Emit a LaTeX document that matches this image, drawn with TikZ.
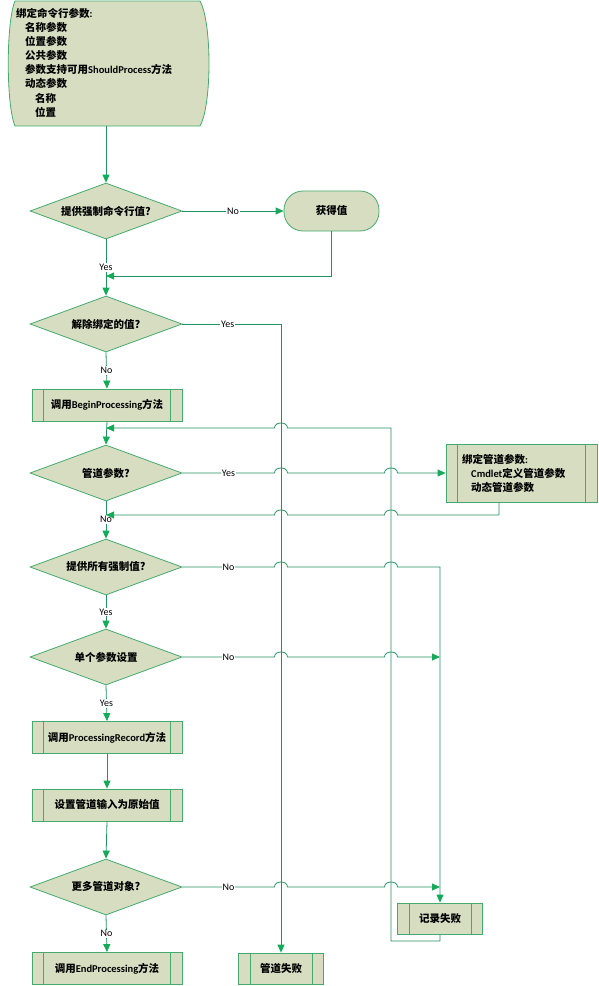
\documentclass[tikz,border=0pt]{standalone}
\usepackage{fontspec}
\setmainfont{Carlito}
\newfontfamily\cjkfont{Noto Sans CJK SC}
\newcommand\zh[1]{{\cjkfont #1}}
\usetikzlibrary{arrows.meta,shapes.geometric}
\definecolor{lnc}{RGB}{35,145,95}
\definecolor{arrc}{RGB}{20,170,90}
\definecolor{shb}{RGB}{70,170,110}
\definecolor{shf}{RGB}{215,221,193}
\newcommand\jmpcur[2]{.. controls (#1-6.5,#2-6.7) and (#1+6.5,#2-6.7) .. (#1+6.5,#2)}
\newcommand\jmpright[2]{-- (#1-6.5,#2) .. controls (#1-6.5,#2-6.7) and (#1+6.5,#2-6.7) .. (#1+6.5,#2)}
\newcommand\jmpleft[2]{-- (#1+6.5,#2) .. controls (#1+6.5,#2-6.7) and (#1-6.5,#2-6.7) .. (#1-6.5,#2)}
\tikzset{
  conn/.style={draw=lnc, line width=0.8pt, -{Triangle[length=8pt,width=7pt,color=arrc]}},
  dec/.style={diamond, shape aspect=2.7, draw=shb, fill=shf, line width=0.8pt,
    minimum width=152pt, minimum height=56pt, inner sep=0pt, font=\fontsize{10.5}{12}\selectfont\bfseries},
  procbox/.style={rectangle, draw=shb, fill=shf, line width=0.8pt, inner sep=0pt,
    font=\fontsize{10.5}{12}\selectfont\bfseries,
    path picture={\draw[shb, line width=0.8pt]
      ([xshift=11.5pt]path picture bounding box.north west) -- ([xshift=11.5pt]path picture bounding box.south west)
      ([xshift=-11.5pt]path picture bounding box.north east) -- ([xshift=-11.5pt]path picture bounding box.south east);}},
  bigproc/.style={procbox, minimum width=150pt, minimum height=32pt},
  smallproc/.style={procbox, minimum width=85pt, minimum height=31pt},
  term/.style={rectangle, rounded corners=19pt, draw=shb, fill=shf, line width=0.8pt,
    minimum width=95pt, minimum height=40pt, inner sep=0pt, font=\fontsize{10.5}{12}\selectfont\bfseries},
  txt/.style={anchor=west, inner sep=0pt, font=\fontsize{10.5}{12}\selectfont\bfseries},
  lbl/.style={fill=white, inner sep=1pt, font=\fontsize{10}{12}\selectfont}
}
\begin{document}
\begin{tikzpicture}[x=1pt,y=-1pt]
\useasboundingbox (0,0) rectangle (599,986);
% top shape
\draw[draw=shb, fill=shf, line width=0.8pt] (15,1) -- (200,1) .. controls (212,22) and (212,105) .. (200,126)
  -- (15,126) .. controls (6,105) and (6,22) .. cycle;
\coordinate (topb) at (106,126);
\node[txt] (t1) at (16,13) {\zh{绑定命令行参数}:};
\node[txt] (t2) at (25,27) {\zh{名称参数}};
\node[txt] (t3) at (25,41) {\zh{位置参数}};
\node[txt] (t4) at (25,55) {\zh{公共参数}};
\node[txt] (t5) at (25,69) {\zh{参数支持可用}ShouldProcess\zh{方法}};
\node[txt] (t6) at (25,83) {\zh{动态参数}};
\node[txt] (t7) at (35,98) {\zh{名称}};
\node[txt] (t8) at (35,112) {\zh{位置}};
% decisions
\node[dec] (d1) at (106,211) {\zh{提供强制命令行值?}};
\node[dec] (d2) at (106,324) {\zh{解除绑定的值?}};
\node[dec] (d3) at (106,473) {\zh{管道参数?}};
\node[dec] (d4) at (106,567) {\zh{提供所有强制值?}};
\node[dec] (d5) at (106,657) {\zh{单个参数设置}};
\node[dec] (d6) at (106,887) {\zh{更多管道对象?}};
% processes
\node[term] (get) at (331.5,211) {\zh{获得值}};
\node[bigproc] (b1) at (107,405) {\zh{调用}BeginProcessing\zh{方法}};
\node[bigproc] (b2) at (107,737.5) {\zh{调用}ProcessingRecord\zh{方法}};
\node[bigproc] (b3) at (107,805) {\zh{设置管道输入为原始值}};
\node[bigproc] (b4) at (107,968.5) {\zh{调用}EndProcessing\zh{方法}};
\node[smallproc] (fail) at (281,968.5) {\zh{管道失败}};
\node[smallproc] (rec) at (440,918.5) {\zh{记录失败}};
\node[procbox, minimum width=151pt, minimum height=58pt] (bind) at (521.5,473) {};
\node[txt] (bt1) at (462,459) {\zh{绑定管道参数}:};
\node[txt] (bt2) at (471,473) {Cmdlet\zh{定义管道参数}};
\node[txt] (bt3) at (471,487) {\zh{动态管道参数}};
% junction points
\coordinate (j1) at (106,276);
\coordinate (j2) at (106,428);
\coordinate (j3) at (106,515);
% connectors
\draw[conn] (topb) -- (d1.north);
\draw[conn] (d1.east) -- node[lbl]{No} (get.west);
\draw[conn] (d1.south) -- node[lbl]{Yes} (d2.north);
\draw[conn] (get.south) |- (j1);
\draw[conn] (d2.east) -- node[lbl,pos=0.46]{Yes} (d2.east -| fail.north) -- (fail.north);
\draw[conn] (d2.south) -- node[lbl]{No} (b1.north);
\draw[conn] (b1.south) -- (d3.north);
\draw[conn] (d3.east) -- node[lbl]{Yes} (274.5,473) \jmpcur{281}{473} \jmpright{391}{473} -- (bind.west);
\draw[conn] (d3.south) -- node[lbl,pos=0.48]{No} (d4.north);
\draw[conn] ([xshift=-22.5pt]bind.south) -- (499,515) \jmpleft{391}{515} \jmpleft{281}{515} -- (j3);
\draw[conn] (d4.east) -- node[lbl]{No} (274.5,567) \jmpcur{281}{567} \jmpright{391}{567} -- (440,567) -- (rec.north);
\draw[conn] (d4.south) -- node[lbl]{Yes} (d5.north);
\draw[conn] (d5.east) -- node[lbl]{No} (274.5,657) \jmpcur{281}{657} \jmpright{391}{657} -- (440,657);
\draw[conn] (d5.south) -- node[lbl]{Yes} (b2.north);
\draw[conn] (b2.south) -- (b3.north);
\draw[conn] (b3.south) -- (d6.north);
\draw[conn] (d6.east) -- node[lbl]{No} (274.5,887) \jmpcur{281}{887} \jmpright{391}{887} -- (440,887);
\draw[conn] (d6.south) -- node[lbl]{No} (b4.north);
\draw[conn] (rec.south) -- (440,941) -- (391,941) -- (391,428) \jmpleft{281}{428} -- (j2);
\end{tikzpicture}
\end{document}
